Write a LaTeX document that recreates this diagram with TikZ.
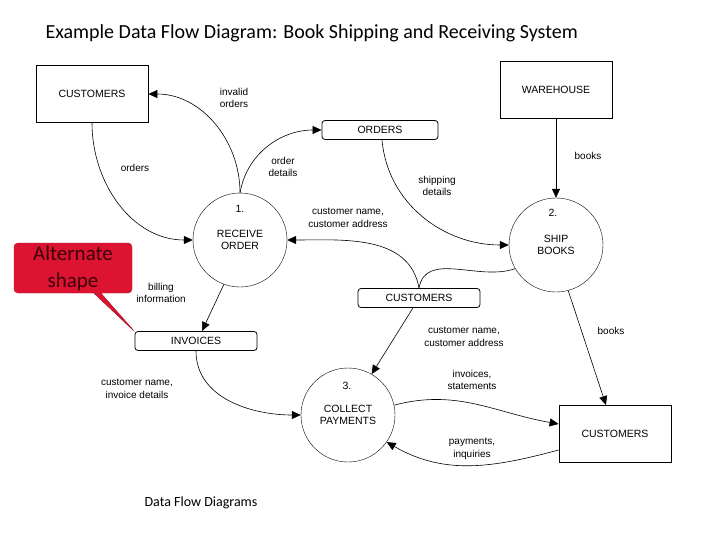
\documentclass[tikz,border=0pt]{standalone}
\usepackage{fontspec}
\setmainfont{Liberation Sans}
\newfontfamily\calib{Carlito}
\usetikzlibrary{arrows.meta,shapes.callouts}
\begin{document}
\begin{tikzpicture}[x=1pt,y=-1pt,
  ent/.style={draw,thick,minimum width=112pt,minimum height=57pt,font=\fontsize{10.5}{12}\selectfont},
  store/.style={draw,thick,rounded corners=3pt,minimum width=120pt,minimum height=19pt,font=\fontsize{10.5}{12}\selectfont},
  proc/.style={draw,circle,minimum size=94pt,align=center,font=\fontsize{10.5}{12}\selectfont},
  flow/.style={semithick,-{Triangle[length=9pt,width=8pt]}},
  lbl/.style={align=center,font=\fontsize{10}{12.5}\selectfont}]
\useasboundingbox (0,0) rectangle (720,540);
\node[font=\calib\fontsize{20}{22}\selectfont,anchor=west] (title) at (42,33) {Example Data Flow Diagram: Book Shipping and Receiving System};
\node[ent] (cust1) at (92,94) {CUSTOMERS};
\node[ent] (ware) at (556,90) {WAREHOUSE};
\node[ent] (cust2) at (615,434) {CUSTOMERS};
\node[store,minimum width=116pt] (orders) at (380,130) {ORDERS};
\node[store,minimum width=122pt] (custs) at (419,298) {CUSTOMERS};
\node[store,minimum width=122pt] (inv) at (196,341) {INVOICES};
\node[proc] (p1) at (240,240) {RECEIVE\\ORDER};
\node[font=\fontsize{10.5}{12}\selectfont] (n1) at (240,209) {1.};
\node[proc] (p2) at (556,245) {SHIP\\BOOKS};
\node[font=\fontsize{10.5}{12}\selectfont] (n2) at (553,213) {2.};
\node[proc] (p3) at (348,415) {COLLECT\\PAYMENTS};
\node[font=\fontsize{10.5}{12}\selectfont] (n3) at (347,386) {3.};
\coordinate (tip) at (135,332);
\node[rectangle callout,rounded corners=4pt,fill={rgb,255:red,220;green,20;blue,50},draw={rgb,255:red,170;green,10;blue,30},
  minimum width=118pt,minimum height=50pt,align=center,text={rgb,255:red,60;green,0;blue,10},
  font=\calib\fontsize{21}{27}\selectfont,inner sep=1pt,callout absolute pointer={(tip)}] (call) at (73,268) {Alternate\\shape};
\node[font=\calib\fontsize{14}{16}\selectfont] (foot) at (201,503) {Data Flow Diagrams};
% flows
\draw[flow] (cust1.south) to[out=-90,in=180] (p1.west);
\node[lbl] (l1) at (135,168) {orders};
\draw[flow] (p1.north) to[out=90,in=0] (cust1.east);
\node[lbl] (l2) at (234,98) {invalid\\orders};
\draw[flow] (p1.north) to[out=80,in=180] (orders.west);
\node[lbl] (l3) at (283,167) {order\\details};
\draw[flow] ([xshift=2pt]orders.south) to[out=-85,in=180] (p2.west);
\node[lbl] (l4) at (437,186) {shipping\\details};
\draw[flow] (custs.north) to[out=100,in=0] (p1.east);
\draw[semithick] (custs.north) to[out=80,in=200] (p2.210);
\node[lbl] (l5) at (348,218) {customer name,\\customer address};
\draw[flow] (ware.south) -- (p2.north);
\node[lbl] (l6) at (588,156) {books};
\draw[flow] (p1.250) -- ([xshift=6pt]inv.north);
\node[lbl] (l7) at (161,293) {billing\\information};
\draw[flow] (inv.south) to[out=-90,in=180] (p3.west);
\node[lbl] (l8) at (137,389) {customer name,\\invoice details};
\draw[flow] ([xshift=-6pt]custs.south) -- (p3.60);
\node[lbl] (l9) at (464,337) {customer name,\\customer address};
\draw[flow] (p2.285) -- ([xshift=-9pt]cust2.north);
\node[lbl] (l10) at (611,331) {books};
\draw[flow] (p3.12) to[out=15,in=170] ([yshift=10pt]cust2.west);
\node[lbl] (l11) at (472,380) {invoices,\\statements};
\draw[flow] ([yshift=-16pt]cust2.west) to[out=195,in=-30] (p3.-35);
\node[lbl] (l12) at (472,449) {payments,\\inquiries};
\end{tikzpicture}
\end{document}
